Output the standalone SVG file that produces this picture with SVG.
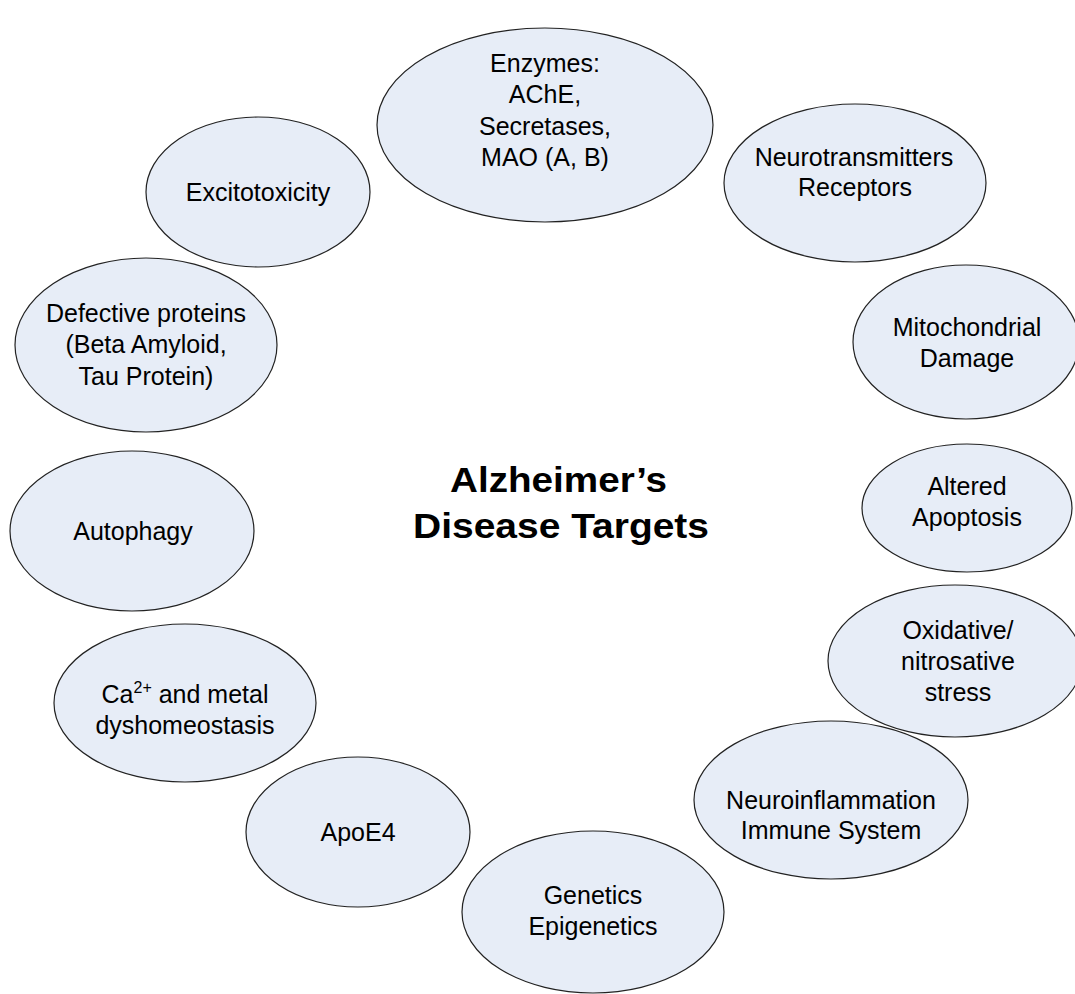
<svg xmlns="http://www.w3.org/2000/svg" width="1075" height="994" viewBox="0 0 1075 994">
<style>
.n ellipse{fill:#e7edf7;stroke:#222;stroke-width:1.2}
.n text{font-family:"Liberation Sans",Arial,sans-serif;font-size:25px;fill:#000;text-anchor:middle}
.t{font-family:"Liberation Sans",Arial,sans-serif;font-size:35px;font-weight:bold;fill:#000;text-anchor:middle}
</style>
<rect width="1075" height="994" fill="#fff"/>
<g id="connectors"></g>
<g id="enzymes" class="n"><ellipse cx="545" cy="125" rx="168" ry="97"/><text x="545" y="72">Enzymes:</text><text x="545" y="103">AChE,</text><text x="545" y="135">Secretases,</text><text x="545" y="166">MAO (A, B)</text></g>
<g id="neurotransmitters" class="n"><ellipse cx="855" cy="183" rx="131" ry="79"/><text x="854" y="166">Neurotransmitters</text><text x="855" y="196">Receptors</text></g>
<g id="excitotoxicity" class="n"><ellipse cx="258" cy="192" rx="112" ry="75"/><text x="258" y="201">Excitotoxicity</text></g>
<g id="defective" class="n"><ellipse cx="146" cy="345" rx="131" ry="87"/><text x="146" y="322">Defective proteins</text><text x="146" y="353">(Beta Amyloid,</text><text x="146" y="385">Tau Protein)</text></g>
<g id="mitochondrial" class="n"><ellipse cx="966" cy="342" rx="113" ry="77"/><text x="967" y="336">Mitochondrial</text><text x="967" y="367">Damage</text></g>
<g id="apoptosis" class="n"><ellipse cx="967" cy="508" rx="105" ry="64"/><text x="967" y="495">Altered</text><text x="967" y="526">Apoptosis</text></g>
<g id="autophagy" class="n"><ellipse cx="132" cy="531" rx="122" ry="80"/><text x="133" y="540">Autophagy</text></g>
<g id="oxidative" class="n"><ellipse cx="955" cy="661" rx="127" ry="76"/><text x="958" y="639">Oxidative/</text><text x="958" y="670">nitrosative</text><text x="958" y="701">stress</text></g>
<g id="calcium" class="n"><ellipse cx="185" cy="703" rx="131" ry="79"/><text x="185" y="703">Ca<tspan font-size="16" dy="-10">2+</tspan><tspan dy="10"> and metal</tspan></text><text x="185" y="734">dyshomeostasis</text></g>
<g id="neuroinflammation" class="n"><ellipse cx="831" cy="800" rx="137" ry="79"/><text x="831" y="809">Neuroinflammation</text><text x="831" y="839">Immune System</text></g>
<g id="apoe4" class="n"><ellipse cx="358" cy="832" rx="112" ry="75"/><text x="358" y="841">ApoE4</text></g>
<g id="genetics" class="n"><ellipse cx="593" cy="912" rx="131" ry="81"/><text x="593" y="904">Genetics</text><text x="593" y="935">Epigenetics</text></g>
<g id="title"><text class="t" x="558.5" y="492" textLength="217" lengthAdjust="spacingAndGlyphs">Alzheimer’s</text><text class="t" x="561" y="538" textLength="296" lengthAdjust="spacingAndGlyphs">Disease Targets</text></g>
</svg>
